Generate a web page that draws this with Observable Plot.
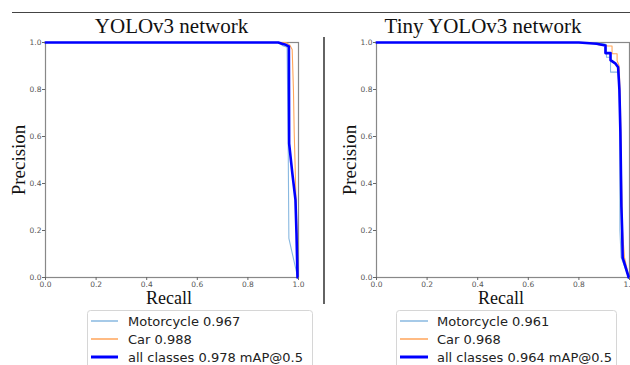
<!DOCTYPE html>
<html>
<head>
<meta charset="utf-8">
<script src="https://cdn.jsdelivr.net/npm/d3@7"></script>
<script src="https://cdn.jsdelivr.net/npm/@observablehq/plot@0.6"></script>
<style>
  html, body { margin: 0; padding: 0; background: #fff; overflow: hidden; }
  #wrap { position: relative; width: 630px; height: 365px; background: #fff; }
</style>
</head>
<body>
<div id="wrap"></div>
<script>
// ---------- data ----------
const panelTitles = ["YOLOv3 network", "Tiny YOLOv3 network"];
const seriesNames = ["Motorcycle", "Car", "all classes"];
const legendLabelsYolo = ["Motorcycle 0.967", "Car 0.988", "all classes 0.978 mAP@0.5"];
const legendLabelsTiny = ["Motorcycle 0.961", "Car 0.968", "all classes 0.964 mAP@0.5"];
const tickValues = [0, 0.2, 0.4, 0.6, 0.8, 1.0];

// YOLOv3
const yoloMotoRecall    = [0, 0.92, 0.94, 0.955, 0.959, 0.962, 0.997];
const yoloMotoPrecision = [1, 1, 0.985, 0.98, 0.6, 0.166, 0];
const yoloCarRecall     = [0, 0.95, 0.965, 0.975, 0.98, 0.983, 0.99, 0.994, 0.997];
const yoloCarPrecision  = [1, 1, 0.99, 0.97, 0.8, 0.62, 0.34, 0.19, 0];
const yoloAllRecall     = [0, 0.92, 0.935, 0.95, 0.962, 0.963, 0.968, 0.976, 0.988, 0.992, 0.996];
const yoloAllPrecision  = [1, 1, 0.995, 0.99, 0.983, 0.57, 0.52, 0.44, 0.33, 0.19, 0];

// Tiny YOLOv3
const tinyMotoRecall    = [0, 0.85, 0.9, 0.909, 0.909, 0.925, 0.925, 0.954, 0.96, 0.962, 0.962, 0.967, 0.997];
const tinyMotoPrecision = [1, 1, 0.995, 0.99, 0.937, 0.937, 0.874, 0.874, 0.8, 0.6, 0.2, 0.086, 0];
const tinyCarRecall     = [0, 0.85, 0.88, 0.915, 0.931, 0.931, 0.951, 0.951, 0.959, 0.964, 0.968, 0.972, 0.98, 0.998];
const tinyCarPrecision  = [1, 1, 0.99, 0.985, 0.985, 0.952, 0.952, 0.923, 0.9, 0.75, 0.45, 0.2, 0.086, 0];
const tinyAllRecall     = [0, 0.8, 0.87, 0.905, 0.905, 0.925, 0.925, 0.945, 0.955, 0.96, 0.964, 0.968, 0.971, 0.973, 0.997];
const tinyAllPrecision  = [1, 1, 0.995, 0.987, 0.955, 0.955, 0.925, 0.91, 0.895, 0.8, 0.62, 0.3, 0.2, 0.085, 0];

// ---------- build tables ----------
function table(pairs) {
  const rows = [];
  pairs.forEach(([name, r, p]) => r.forEach((v, i) => rows.push({series: name, recall: v, precision: p[i]})));
  return rows;
}
const yoloData = table([
  [seriesNames[0], yoloMotoRecall, yoloMotoPrecision],
  [seriesNames[1], yoloCarRecall, yoloCarPrecision],
  [seriesNames[2], yoloAllRecall, yoloAllPrecision]
]);
const tinyData = table([
  [seriesNames[0], tinyMotoRecall, tinyMotoPrecision],
  [seriesNames[1], tinyCarRecall, tinyCarPrecision],
  [seriesNames[2], tinyAllRecall, tinyAllPrecision]
]);

const colors = {"Motorcycle": "#88b8e0", "Car": "#ffa55a", "all classes": "#0000ff"};
const widths = {"Motorcycle": 1.1, "Car": 1.1, "all classes": 2.6};

function panel(data, width, marginRight) {
  const marks = [Plot.frame({stroke: "#888", strokeWidth: 1.2})];
  seriesNames.forEach(s => {
    marks.push(Plot.line(data.filter(d => d.series === s), {
      x: "recall", y: "precision", stroke: colors[s], strokeWidth: widths[s], strokeLinejoin: "round"
    }));
  });
  marks.push(Plot.axisX({ticks: tickValues, tickFormat: d3.format(".1f"), tickSize: 3, tickPadding: 1, label: null, stroke: "#666"}));
  marks.push(Plot.axisY({ticks: tickValues, tickFormat: d3.format(".1f"), tickSize: 3, tickPadding: 1, label: null, stroke: "#666"}));
  return Plot.plot({
    width, height: 300,
    marginLeft: 45, marginRight, marginTop: 42, marginBottom: 23,
    x: {domain: [0, 1]},
    y: {domain: [0, 1]},
    style: {fontSize: "7.5px", fontFamily: "DejaVu Sans", color: "#555", background: "transparent", overflow: "visible"},
    marks
  });
}

const wrap = document.getElementById("wrap");
const p1 = panel(yoloData, 320, 22);
p1.style.position = "absolute"; p1.style.left = "0px"; p1.style.top = "0px";
const p2 = panel(tinyData, 299, 1);
p2.style.position = "absolute"; p2.style.left = "331px"; p2.style.top = "0px";
wrap.appendChild(p1);
wrap.appendChild(p2);

// ---------- decorations overlay ----------
const svg = d3.select(wrap).append("svg")
  .attr("width", 630).attr("height", 365)
  .style("position", "absolute").style("left", "0px").style("top", "0px")
  .style("pointer-events", "none");

svg.append("line").attr("x1", 12).attr("x2", 630).attr("y1", 12.5).attr("y2", 12.5)
  .attr("stroke", "#444").attr("stroke-width", 1.2);
svg.append("line").attr("x1", 324).attr("x2", 324).attr("y1", 37).attr("y2", 304)
  .attr("stroke", "#222").attr("stroke-width", 1.4);

const serif = "Liberation Serif, Times New Roman, serif";
[[171.5, panelTitles[0]], [483, panelTitles[1]]].forEach(([x, t]) => {
  svg.append("text").attr("x", x).attr("y", 33).attr("text-anchor", "middle")
    .attr("font-family", serif).attr("font-size", 21).attr("fill", "#111").text(t);
});
[[169, 0], [501, 331]].forEach(([x, off]) => {
  svg.append("text").attr("x", x).attr("y", 304).attr("text-anchor", "middle")
    .attr("font-family", serif).attr("font-size", 18).attr("fill", "#111").text("Recall");
  svg.append("text").attr("transform", `translate(${25 + off},160) rotate(-90)`).attr("text-anchor", "middle")
    .attr("font-family", serif).attr("font-size", 19).attr("fill", "#111").text("Precision");
});

function legend(x, w, lx1, lx2, tx, labels) {
  svg.append("rect").attr("x", x + 0.5).attr("y", 310.5).attr("width", w).attr("height", 70)
    .attr("rx", 3).attr("fill", "#fff").attr("stroke", "#d6d6d6");
  const ys = [321, 339, 357];
  seriesNames.forEach((s, i) => {
    svg.append("line").attr("x1", lx1).attr("x2", lx2).attr("y1", ys[i]).attr("y2", ys[i])
      .attr("stroke", colors[s]).attr("stroke-width", s === "all classes" ? 3 : 1.5);
    svg.append("text").attr("x", tx).attr("y", ys[i]).attr("dy", "0.36em")
      .attr("font-family", "DejaVu Sans").attr("font-size", 13).attr("fill", "#222").text(labels[i]);
  });
}
legend(87, 225, 91, 118, 128, legendLabelsYolo);
legend(396, 220, 400, 428, 437, legendLabelsTiny);
</script>
</body>
</html>
